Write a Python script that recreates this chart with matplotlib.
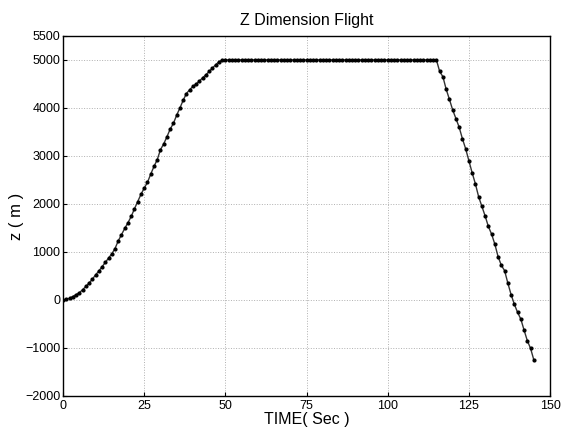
import numpy as np
import matplotlib
matplotlib.use("Agg")
import matplotlib.pyplot as plt

plt.rcParams['font.family'] = ['Liberation Sans', 'DejaVu Sans']

# climb phase, one sample per second
t_climb = list(range(0, 50))
z_climb = [0, 10, 35, 70, 110, 150, 210, 280, 350, 430,
           520, 600, 690, 780, 870, 960, 1070, 1230, 1360, 1490,
           1610, 1740, 1900, 2050, 2200, 2330, 2450, 2620, 2780, 2920,
           3130, 3250, 3400, 3560, 3680, 3850, 4000, 4160, 4300, 4380,
           4450, 4500, 4560, 4630, 4690, 4760, 4830, 4900, 4960, 5000]

# level flight at altitude
t_level = list(range(50, 116))
z_level = [5000] * len(t_level)

# descent phase
t_desc = list(range(116, 146))
z_desc = [4760, 4650, 4390, 4180, 3960, 3780, 3600, 3360, 3150, 2900,
          2650, 2420, 2150, 1950, 1750, 1530, 1370, 1160, 900, 720,
          610, 350, 110, -90, -260, -400, -630, -850, -1010, -1250]

t = np.array(t_climb + t_level + t_desc)
z = np.array(z_climb + z_level + z_desc)

x_ticks = [0, 25, 50, 75, 100, 125, 150]
y_ticks = [-2000, -1000, 0, 1000, 2000, 3000, 4000, 5000, 5500]

fig = plt.figure(figsize=(5.63, 4.28), dpi=100)
ax = fig.add_axes([0.112, 0.075, 0.865, 0.841])

ax.plot(t, z, color='#333333', lw=1.0, marker='o', markersize=2.0,
        markerfacecolor='black', markeredgecolor='black')

ax.set_xlim(0, 150)
ax.set_ylim(-2000, 5500)
ax.set_xticks(x_ticks)
ax.set_yticks(y_ticks)
ax.grid(True, color='#b0b0b0', linestyle=':', linewidth=0.7)
ax.tick_params(direction='in', length=3, labelsize=9)
ax.tick_params(axis='x', pad=3)
ax.tick_params(axis='y', pad=2)
for s in ax.spines.values():
    s.set_linewidth(1.0)

ax.set_title('Z Dimension Flight', fontsize=11.5, pad=8)
ax.set_xlabel('TIME( Sec )', fontsize=11.5, labelpad=0)
ax.set_ylabel('z ( m )', fontsize=12, labelpad=1)

fig.savefig('out.png', dpi=100)
